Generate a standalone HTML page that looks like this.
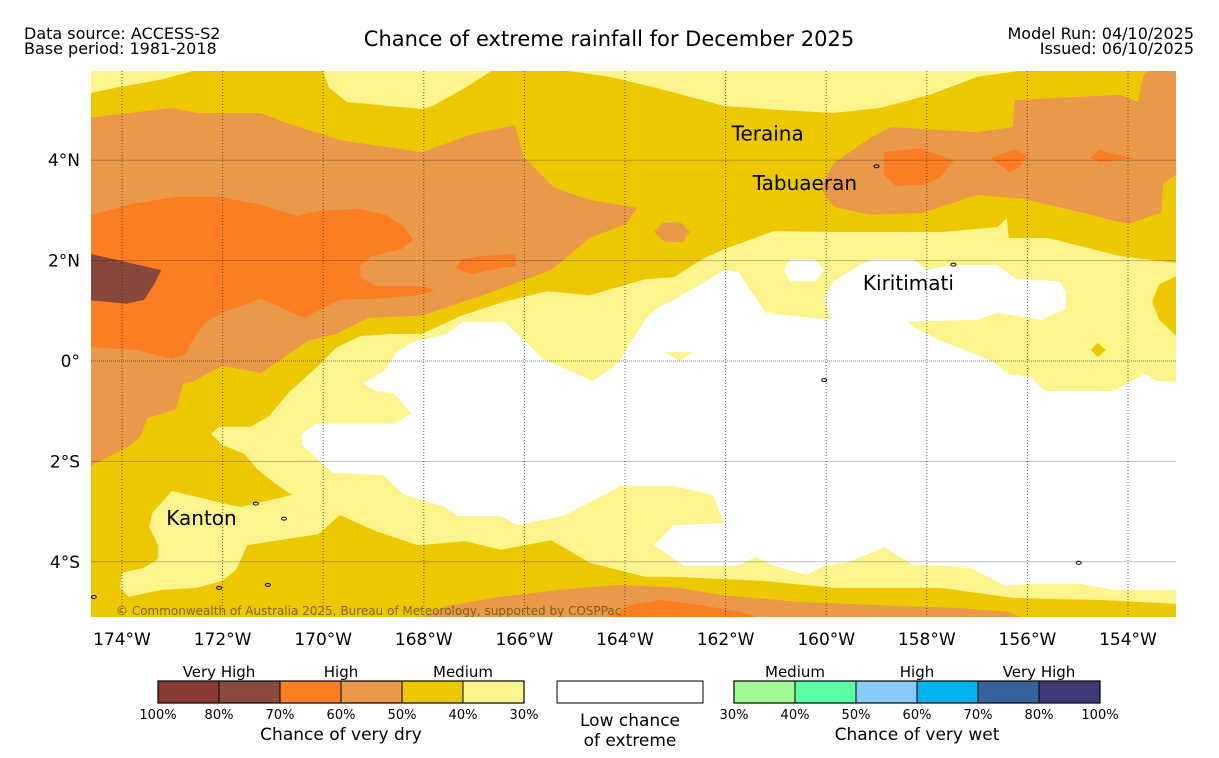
<!DOCTYPE html>
<html><head><meta charset="utf-8"><style>
html,body{margin:0;padding:0;background:#fff;}
svg{display:block;font-family:"DejaVu Sans","Liberation Sans",sans-serif;}
</style></head><body>
<svg id="chart" width="1219" height="758" viewBox="0 0 1219 758" xmlns="http://www.w3.org/2000/svg">
<text x="24" y="39" font-size="16">Data source: ACCESS-S2</text>
<text x="24" y="54" font-size="16">Base period: 1981-2018</text>
<text x="609" y="46" font-size="21" text-anchor="middle">Chance of extreme rainfall for December 2025</text>
<text x="1194" y="39" font-size="16" text-anchor="end">Model Run: 04/10/2025</text>
<text x="1194" y="54" font-size="16" text-anchor="end">Issued: 06/10/2025</text>
<defs><clipPath id="mapclip"><rect x="91" y="71" width="1085" height="546"/></clipPath></defs>
<g id="map" clip-path="url(#mapclip)"></g>
<g id="axes"></g>
<g id="legend"></g>
</svg>
<script>
// ---- data ----
const lonTicks = [174,172,170,168,166,164,162,160,158,156,154];
const latTicks = [4,2,0,-2,-4];
const latLabels = ["4°N","2°N","0°","2°S","4°S"];
const dryColors = ["#8b3a33","#8a4b3e","#fd7d23","#ea994a","#edc800","#fcf58d"];
const dryTicks = ["100%","80%","70%","60%","50%","40%","30%"];
const wetColors = ["#a0fb95","#58fda5","#87cbfb","#00b2ec","#37639c","#3e3a75"];
const wetTicks = ["30%","40%","50%","60%","70%","80%","100%"];
const C_YEL="#fcf58d", C_GOLD="#edc800", C_LOR="#ea994a", C_OR="#fd7d23", C_BR="#87483b";
// polygons: [lonW, lat]
const whiteMain = [[167.22,0.78],[166.41,0.78],[166.05,0.46],[165.63,0.04],[164.64,-0.40],[164.14,-0.04],[163.60,0.82],[163.38,1.04],[162.97,1.25],[162.39,1.59],[162.03,1.81],[161.75,1.77],[161.40,1.25],[161.20,0.96],[160.70,0.90],[159.91,0.82],[160.04,1.25],[159.85,1.59],[159.49,1.81],[159.13,2.03],[158.27,2.03],[158.00,1.81],[157.50,1.91],[156.59,1.91],[156.23,1.63],[155.37,1.59],[155.23,1.39],[155.23,1.04],[155.15,0.62],[153.0,0.62],[153.0,-4.56],[154.30,-4.56],[154.94,-4.44],[156.01,-4.44],[156.43,-4.48],[157.14,-4.12],[157.72,-4.08],[158.27,-4.06],[158.85,-3.71],[159.57,-4.02],[160.04,-4.08],[160.40,-4.26],[161.04,-4.08],[161.40,-3.90],[161.75,-4.08],[162.83,-4.08],[163.42,-3.67],[163.03,-3.27],[162.03,-3.23],[162.25,-2.67],[163.03,-2.49],[164.10,-2.49],[164.42,-2.67],[165.19,-3.07],[166.13,-3.27],[166.47,-3.09],[167.32,-3.09],[167.62,-2.89],[168.39,-2.67],[168.81,-2.27],[169.81,-2.23],[170.42,-1.67],[170.42,-1.45],[170.16,-1.25],[168.59,-1.25],[168.25,-1.04],[168.59,-0.64],[168.95,-0.60],[169.21,-0.44],[168.81,-0.22],[168.53,0.18],[168.25,0.36],[167.54,0.54]];
const whiteBubble = [[160.72,2.03],[160.22,2.03],[160.04,1.81],[160.22,1.59],[160.72,1.59],[160.84,1.81]];
const yellowBand = [[158.39,0.78],[157.00,0.82],[156.59,0.96],[155.73,0.82],[155.23,1.04],[153.0,0.62],[153.0,-0.42],[153.44,-0.40],[153.66,-0.26],[154.30,-0.60],[155.65,-0.60],[155.93,-0.32],[156.37,-0.26],[156.64,-0.04],[157.14,0.18],[157.72,0.40],[158.27,0.68]];
const yellowPatch = [[163.21,0.18],[162.65,0.18],[162.91,0.0]];
const goldNorth = [[174.7,5.8],[153.0,5.8],[153.0,1.95],[154.16,2.09],[155.59,2.45],[156.37,2.45],[156.41,2.85],[156.59,2.67],[157.72,2.57],[159.85,2.57],[161.04,2.59],[162.03,2.23],[162.47,2.03],[163.03,1.67],[163.60,1.63],[164.70,1.31],[165.55,1.39],[166.41,1.18],[167.26,0.90],[168.04,0.54],[168.61,0.54],[169.25,0.50],[169.75,0.26],[170.10,-0.10],[170.66,-0.60],[171.08,-1.10],[171.44,-1.31],[172.07,-1.31],[172.23,-1.45],[172.01,-1.67],[171.57,-1.85],[171.30,-2.17],[170.94,-2.45],[170.62,-2.67],[171.65,-2.91],[174.7,-2.91]];
const goldSouth = [[174.7,-2.91],[171.65,-2.91],[169.67,-3.07],[168.95,-3.39],[168.12,-3.67],[167.18,-3.59],[166.47,-3.76],[165.47,-3.57],[164.70,-4.02],[163.60,-4.30],[163.03,-4.30],[161.26,-4.38],[159.85,-4.52],[157.72,-4.52],[156.29,-4.72],[154.56,-4.76],[153.0,-4.84],[153.0,-5.2],[174.7,-5.2]];
const goldBlob = [[153.0,1.71],[153.38,1.53],[153.52,1.18],[153.38,0.82],[153.0,0.46]];
const goldDiamond = [[154.60,0.36],[154.44,0.22],[154.60,0.08],[154.74,0.22]];
const kantonYellow = [[171.65,-2.91],[173.01,-2.59],[173.40,-3.03],[173.46,-3.31],[173.28,-3.67],[173.28,-3.94],[173.56,-4.12],[174.00,-4.22],[174.04,-4.52],[173.86,-4.70],[173.22,-4.56],[172.51,-4.52],[172.01,-4.38],[171.73,-4.16],[171.51,-3.67],[170.88,-3.57],[170.10,-3.45],[169.67,-3.07]];
const yellowTL = [[174.7,5.8],[172.51,5.8],[173.24,5.60],[174.04,5.46],[174.7,5.32]];
const yellowTC = [[170.02,5.8],[169.88,5.44],[169.53,5.16],[168.04,5.02],[167.82,5.08],[167.18,5.44],[166.62,5.8]];
const yellowTR = [[165.29,5.8],[156.01,5.8],[157.00,5.66],[157.94,5.30],[158.93,5.04],[159.85,4.94],[160.92,5.00],[162.03,5.08],[163.38,5.44],[164.30,5.66]];
const lorNW = [[174.7,4.84],[173.01,5.04],[172.51,4.94],[171.24,4.94],[170.66,4.72],[169.67,4.40],[168.04,4.16],[167.04,4.52],[166.19,4.70],[166.01,4.06],[165.41,3.45],[164.70,3.21],[163.76,3.05],[163.98,2.73],[164.70,2.45],[165.47,1.81],[166.82,1.31],[168.04,0.90],[169.09,0.86],[169.75,0.54],[170.30,0.40],[171.24,-0.24],[172.01,-0.10],[172.57,-0.40],[172.79,-0.46],[172.93,-0.96],[173.50,-1.14],[173.64,-1.53],[173.92,-1.73],[174.7,-2.13]];
const lorBlob = [[163.42,2.57],[163.26,2.75],[162.91,2.77],[162.71,2.57],[162.85,2.37],[163.21,2.37]];
const lorNE = [[160.12,3.45],[159.85,3.94],[159.13,4.44],[158.71,4.66],[157.00,4.56],[156.29,4.66],[156.25,5.20],[154.16,5.30],[153.80,5.16],[153.70,5.66],[153.60,5.8],[153.0,5.8],[153.0,3.75],[153.30,3.53],[153.34,2.95],[154.02,2.73],[154.88,2.95],[156.09,3.23],[157.00,3.31],[158.08,2.95],[159.13,2.91],[159.85,3.07]];
const lorSouth = [[168.27,-5.2],[167.54,-4.88],[166.49,-4.70],[165.29,-4.56],[164.10,-4.46],[162.91,-4.52],[162.11,-4.66],[160.52,-4.80],[158.53,-4.88],[157.34,-4.92],[156.35,-5.00],[155.95,-5.2]];
const orNW = [[174.7,2.89],[173.78,3.13],[172.93,3.27],[172.07,3.27],[171.30,3.13],[170.52,2.89],[170.10,2.99],[169.31,3.03],[168.75,2.91],[168.39,2.67],[168.21,2.41],[168.45,2.23],[169.03,2.09],[169.27,1.89],[169.25,1.67],[168.95,1.49],[168.04,1.49],[167.78,1.41],[168.10,1.31],[168.95,1.24],[169.67,1.22],[170.38,0.86],[171.24,1.24],[172.01,0.96],[172.37,0.74],[172.65,0.32],[172.73,0.14],[173.01,0.04],[173.72,0.22],[174.7,0.28]];
const orBlob = [[167.38,1.85],[167.24,2.03],[166.88,2.09],[166.19,2.13],[166.17,1.89],[166.49,1.85],[167.04,1.73]];
const orNE1 = [[158.85,4.16],[158.14,4.24],[157.46,4.00],[157.74,3.65],[158.04,3.51],[158.63,3.49],[158.85,3.71]];
const orNE2 = [[156.72,4.04],[156.25,4.22],[156.01,4.10],[156.15,3.86],[156.35,3.76]];
const orNE3 = [[154.76,4.06],[154.56,4.20],[153.90,4.04],[154.56,3.96]];
const orSouth = [[164.50,-5.2],[163.90,-4.86],[163.30,-4.76],[162.51,-4.86],[161.71,-5.00],[161.02,-5.2]];
const brownNW = [[174.7,2.15],[173.22,1.81],[173.36,1.53],[173.56,1.22],[173.92,1.14],[174.7,1.22]];
const places = [["Teraina",161.88,4.39],["Tabuaeran",161.46,3.41],["Kiritimati",159.27,1.41],["Kanton",173.12,-3.27]];
const islands = [[159.0,3.88],[157.47,1.92],[171.34,-2.84],[170.78,-3.14],[172.07,-4.52],[171.10,-4.46],[174.56,-4.70],[154.98,-4.02],[160.04,-0.38]];

// ---- scales ----
const NS="http://www.w3.org/2000/svg";
function xS(lonW){return 122+(174-lonW)*50.3;}
function yS(lat){return 361-lat*50.2;}
function mk(tag,attrs,parent){const e=document.createElementNS(NS,tag);for(const k in attrs)e.setAttribute(k,attrs[k]);parent.appendChild(e);return e;}
const map=document.getElementById('map'), axes=document.getElementById('axes'), leg=document.getElementById('legend');

function poly(pts,fill,name){
  const e=mk('polygon',{points:pts.map(p=>xS(p[0]).toFixed(1)+','+yS(p[1]).toFixed(1)).join(' '),fill:fill},map);
  
  
  return e;
}
const bg=mk('rect',{x:91,y:71,width:1085,height:546,fill:C_YEL},map);


poly(whiteMain,"#ffffff","low-chance-region");
poly(whiteBubble,"#ffffff","low-chance-bubble");
poly(yellowBand,C_YEL,"medium-dry-band");
poly(yellowPatch,C_YEL,"medium-dry-patch");
poly(goldNorth,C_GOLD,"dry-40-50-north");
poly(goldSouth,C_GOLD,"dry-40-50-south");
poly(goldBlob,C_GOLD,"dry-40-50-east-blob");
poly(goldDiamond,C_GOLD,"dry-40-50-diamond");
poly(kantonYellow,C_YEL,"kanton-medium-region");
poly(yellowTL,C_YEL,"medium-dry-top-left");
poly(yellowTC,C_YEL,"medium-dry-top-center");
poly(yellowTR,C_YEL,"medium-dry-top-right");
poly(lorNW,C_LOR,"dry-50-60-northwest");
poly(lorBlob,C_LOR,"dry-50-60-blob");
poly(lorNE,C_LOR,"dry-50-60-northeast");
poly(lorSouth,C_LOR,"dry-50-60-south");
poly(orNW,C_OR,"dry-60-70-northwest");
poly(orBlob,C_OR,"dry-60-70-blob");
poly(orNE1,C_OR,"dry-60-70-ne-1");
poly(orNE2,C_OR,"dry-60-70-ne-2");
poly(orNE3,C_OR,"dry-60-70-ne-3");
poly(orSouth,C_OR,"dry-60-70-south");
poly(brownNW,C_BR,"dry-70-80-west");

// gridlines
lonTicks.forEach(l=>{
  const g=mk('line',{x1:xS(l),x2:xS(l),y1:71,y2:617,stroke:"#222","stroke-width":1,"stroke-dasharray":"1,2","stroke-opacity":0.7},map);
  
  
});
latTicks.forEach(l=>{
  const a={x1:91,x2:1176,y1:yS(l),y2:yS(l),stroke:"#000","stroke-width":1,"stroke-opacity":l===0?0.5:0.25};
  if(l===0)a["stroke-dasharray"]="1,1";
  const g=mk('line',a,map);
  
  
});
islands.forEach(p=>{
  const e=mk('ellipse',{cx:xS(p[0]),cy:yS(p[1]),rx:2.5,ry:1.5,fill:"none",stroke:"#000","stroke-width":1},map);
  
  
});
places.forEach(p=>{
  const t=mk('text',{x:xS(p[1]),y:yS(p[2]),"font-size":20,fill:"#000"},map);
  t.textContent=p[0];
  
  
});
const cp=mk('text',{x:116,y:615,"font-size":12,fill:"#6b5410","fill-opacity":0.85},map);
cp.textContent="© Commonwealth of Australia 2025, Bureau of Meteorology, supported by COSPPac";



// axis labels
lonTicks.forEach(l=>{
  const t=mk('text',{x:xS(l),y:645,"font-size":17,"text-anchor":"middle"},axes);
  t.textContent=l+"°W";
  
  
});
latTicks.forEach((l,i)=>{
  const t=mk('text',{x:80,y:yS(l)+6,"font-size":17,"text-anchor":"end"},axes);
  t.textContent=latLabels[i];
  
  
});

// legend
function colorbar(x0,colors,ticks,groups,title,name){
  const w=61;
  colors.forEach((c,i)=>{
    const r=mk('rect',{x:x0+i*w,y:681,width:w,height:22,fill:c,stroke:"#000","stroke-width":1},leg);
    
    
  });
  mk('rect',{x:x0,y:681,width:w*colors.length,height:22,fill:"none",stroke:"#000","stroke-width":1.2},leg);
  ticks.forEach((t,i)=>{
    const e=mk('text',{x:x0+i*w,y:719,"font-size":13,"text-anchor":"middle"},leg);
    e.textContent=t;
    
    
  });
  groups.forEach((g,i)=>{
    const e=mk('text',{x:x0+w+i*2*w,y:677,"font-size":15,"text-anchor":"middle"},leg);
    e.textContent=g;
    
    
  });
  const tt=mk('text',{x:x0+3*w,y:740,"font-size":17,"text-anchor":"middle"},leg);
  tt.textContent=title;
  
  
}
colorbar(158,dryColors,dryTicks,["Very High","High","Medium"],"Chance of very dry","dry-colorbar");
colorbar(734,wetColors,wetTicks,["Medium","High","Very High"],"Chance of very wet","wet-colorbar");
const lb=mk('rect',{x:557,y:681,width:146,height:22,fill:"#fff",stroke:"#000","stroke-width":1},leg);


const l1=mk('text',{x:630,y:726,"font-size":17,"text-anchor":"middle"},leg);
l1.textContent="Low chance";


const l2=mk('text',{x:630,y:746,"font-size":17,"text-anchor":"middle"},leg);
l2.textContent="of extreme";


</script>
</body></html>
